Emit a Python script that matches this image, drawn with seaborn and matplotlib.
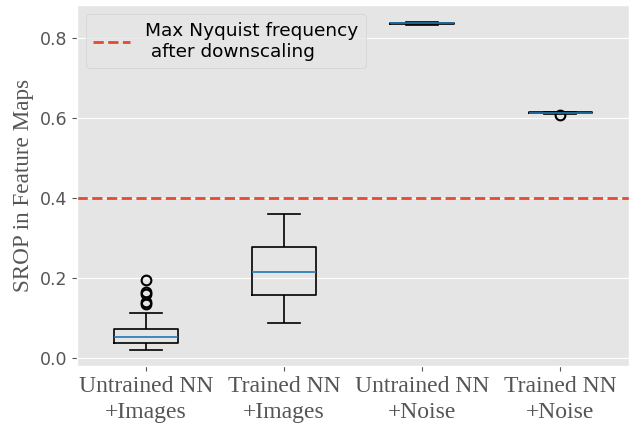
import matplotlib
matplotlib.use("Agg")
import matplotlib.pyplot as plt
import seaborn as sns
import pandas as pd

categories = ["Untrained NN\n+Images", "Trained NN\n+Images", "Untrained NN\n+Noise", "Trained NN\n+Noise"]

untrained_images = [0.020, 0.027, 0.031, 0.033, 0.035, 0.036, 0.0375, 0.040, 0.043, 0.046,
                    0.049, 0.051, 0.0525, 0.055, 0.058, 0.061, 0.065, 0.069, 0.0725, 0.1125,
                    0.135, 0.138, 0.160, 0.165, 0.195]
trained_images = [0.0875, 0.120, 0.145, 0.1575, 0.175, 0.200, 0.215, 0.230, 0.255, 0.2775,
                  0.310, 0.335, 0.360]
untrained_noise = [0.833, 0.834, 0.8345, 0.835, 0.8355, 0.836, 0.8365, 0.837, 0.8372, 0.8375,
                   0.838, 0.8385, 0.839]
trained_noise = [0.607, 0.6105, 0.611, 0.612, 0.6125, 0.613, 0.6135, 0.614, 0.6143, 0.615,
                 0.6153, 0.6157, 0.616]

nyquist = 0.4
legend_label = "Max Nyquist frequency\n after downscaling"
ylabel = "SROP in Feature Maps"

series = [untrained_images, trained_images, untrained_noise, trained_noise]
df = pd.DataFrame({
    "group": [c for c, s in zip(categories, series) for _ in s],
    "value": [v for s in series for v in s],
})

plt.style.use("ggplot")
fig = plt.figure(figsize=(6.3, 4.24), dpi=100)
ax = fig.add_axes([0.122, 0.137, 0.877, 0.851])

sns.boxplot(data=df, x="group", y="value", order=categories, ax=ax, width=0.46,
            fill=False, color="black", linewidth=1.2, whis=1.5,
            boxprops=dict(color="black", linewidth=1.2),
            whiskerprops=dict(color="black", linewidth=1.2),
            capprops=dict(color="black", linewidth=1.2),
            medianprops=dict(color="#1f77b4", linewidth=1.2),
            flierprops=dict(marker="o", markerfacecolor="none", markeredgecolor="black",
                            markersize=7, markeredgewidth=1.5))

ax.axhline(nyquist, color="#E24A33", linestyle="--", linewidth=2, label=legend_label)

ax.set_xlim(-0.5, 3.5)
ax.set_ylim(-0.021, 0.8825)
ax.set_yticks([0.0, 0.2, 0.4, 0.6, 0.8])
ax.set_xlabel("")
ax.set_ylabel(ylabel, family="Liberation Serif", fontsize=16.7, color="#555555")
for lbl in ax.get_xticklabels():
    lbl.set_family("Liberation Serif")
    lbl.set_fontsize(17)
    lbl.set_color("#555555")
    lbl.set_linespacing(1.35)
ax.tick_params(axis="y", labelsize=12.5, labelcolor="#555555")

leg = ax.legend(loc="upper left", fontsize=13.3, facecolor="#E5E5E5", edgecolor="#CCCCCC",
                framealpha=0.8)
for t in leg.get_texts():
    t.set_color("black")

fig.savefig("out.png", dpi=100)
